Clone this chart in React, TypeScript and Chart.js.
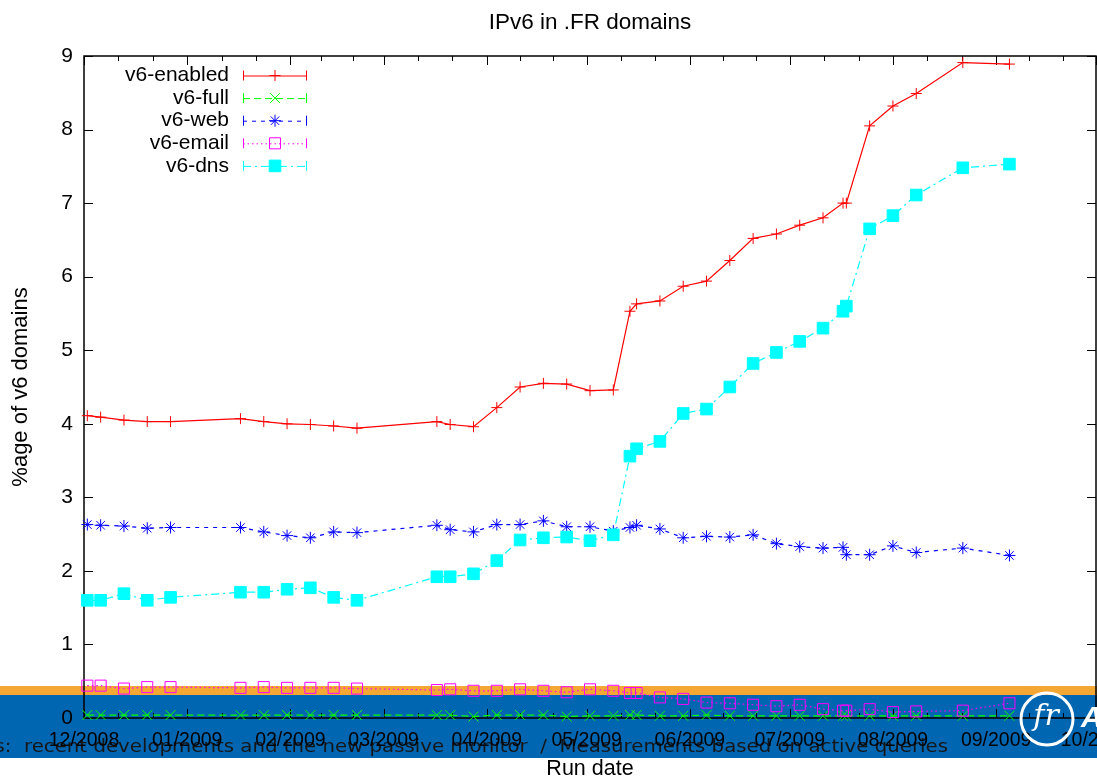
import React, { useEffect, useRef } from 'react';
import { Chart, registerables } from 'chart.js';

Chart.register(...registerables);

// ---- data ----
const runDates = [
  '2008-12-02', '2008-12-06', '2008-12-13', '2008-12-20', '2008-12-27',
  '2009-01-17', '2009-01-24', '2009-01-31', '2009-02-07', '2009-02-14',
  '2009-02-21', '2009-03-17', '2009-03-21', '2009-03-28', '2009-04-04',
  '2009-04-11', '2009-04-18', '2009-04-25', '2009-05-02', '2009-05-09',
  '2009-05-14', '2009-05-16', '2009-05-23', '2009-05-30', '2009-06-06',
  '2009-06-13', '2009-06-20', '2009-06-27', '2009-07-04', '2009-07-11',
  '2009-07-17', '2009-07-18', '2009-07-25', '2009-08-01', '2009-08-08',
  '2009-08-22', '2009-09-05',
];

const v6Enabled = [
  4.11, 4.09, 4.05, 4.03, 4.03, 4.07, 4.03, 4.0, 3.99, 3.97,
  3.94, 4.03, 3.99, 3.96, 4.22, 4.5, 4.55, 4.54, 4.45, 4.46,
  5.53, 5.63, 5.67, 5.87, 5.94, 6.22, 6.52, 6.58, 6.7, 6.8,
  7.0, 7.0, 8.05, 8.32, 8.49, 8.91, 8.89,
];

const v6Full = [
  0.04, 0.04, 0.04, 0.04, 0.04, 0.04, 0.04, 0.04, 0.04, 0.04,
  0.04, 0.04, 0.04, 0.02, 0.04, 0.04, 0.04, 0.02, 0.03, 0.03,
  0.04, 0.04, 0.03, 0.03, 0.04, 0.03, 0.03, 0.03, 0.03, 0.03,
  0.03, 0.03, 0.03, 0.03, 0.03, 0.03, 0.03,
];

const v6Web = [
  2.63, 2.62, 2.61, 2.58, 2.59, 2.59, 2.53, 2.48, 2.45, 2.53,
  2.52, 2.62, 2.56, 2.53, 2.63, 2.63, 2.68, 2.6, 2.6, 2.54,
  2.59, 2.62, 2.57, 2.45, 2.47, 2.46, 2.49, 2.37, 2.33, 2.31,
  2.32, 2.22, 2.22, 2.34, 2.25, 2.31, 2.21,
];

const v6Email = [
  0.44, 0.44, 0.4, 0.42, 0.42, 0.41, 0.42, 0.41, 0.41, 0.41,
  0.4, 0.38, 0.39, 0.37, 0.37, 0.39, 0.37, 0.35, 0.39, 0.37,
  0.34, 0.34, 0.28, 0.26, 0.21, 0.2, 0.18, 0.16, 0.18, 0.12,
  0.1, 0.1, 0.12, 0.08, 0.09, 0.1, 0.2,
];

const v6Dns = [
  1.6, 1.6, 1.69, 1.6, 1.64, 1.71, 1.71, 1.75, 1.77, 1.64,
  1.6, 1.92, 1.92, 1.96, 2.14, 2.42, 2.45, 2.46, 2.41, 2.49,
  3.56, 3.66, 3.76, 4.14, 4.2, 4.5, 4.82, 4.97, 5.12, 5.3,
  5.53, 5.6, 6.65, 6.83, 7.11, 7.48, 7.53,
];

const tickDates = [
  '2008-12-01', '2009-01-01', '2009-02-01', '2009-03-01', '2009-04-01',
  '2009-05-01', '2009-06-01', '2009-07-01', '2009-08-01', '2009-09-01', '2009-10-01',
];
const tickLabels = [
  '12/2008', '01/2009', '02/2009', '03/2009', '04/2009',
  '05/2009', '06/2009', '07/2009', '08/2009', '09/2009', '10/2009',
];

const chartTitle = 'IPv6 in .FR domains';
const yTitle = '%age of v6 domains';
const xTitle = 'Run date';
const footerText = 's:  recent developments and the new passive monitor  /  Measurements based on active queries';

// ---- helpers ----
const ORIGIN = Date.UTC(2008, 11, 1);
const toDay = (s: string) => {
  const [y, m, d] = s.split('-').map(Number);
  return (Date.UTC(y, m - 1, d) - ORIGIN) / 86400000;
};
const series = (vals: number[]) => runDates.map((d, i) => ({ x: toDay(d), y: vals[i] }));

const FONT = "'Liberation Sans', Arial, Helvetica, sans-serif";

function drawMarker(ctx: CanvasRenderingContext2D, style: string, x: number, y: number, r: number, color: string, fill: string) {
  ctx.save();
  ctx.strokeStyle = color;
  ctx.fillStyle = fill;
  ctx.lineWidth = 1;
  ctx.setLineDash([]);
  ctx.beginPath();
  if (style === 'cross') {
    ctx.moveTo(x - r, y); ctx.lineTo(x + r, y);
    ctx.moveTo(x, y - r); ctx.lineTo(x, y + r);
    ctx.stroke();
  } else if (style === 'crossRot') {
    const o = r * Math.SQRT1_2;
    ctx.moveTo(x - o, y - o); ctx.lineTo(x + o, y + o);
    ctx.moveTo(x - o, y + o); ctx.lineTo(x + o, y - o);
    ctx.stroke();
  } else if (style === 'star') {
    const o = r * Math.SQRT1_2;
    ctx.moveTo(x - r, y); ctx.lineTo(x + r, y);
    ctx.moveTo(x, y - r); ctx.lineTo(x, y + r);
    ctx.moveTo(x - o, y - o); ctx.lineTo(x + o, y + o);
    ctx.moveTo(x - o, y + o); ctx.lineTo(x + o, y - o);
    ctx.stroke();
  } else if (style === 'rect') {
    const s = r * Math.SQRT1_2;
    ctx.rect(x - s, y - s, 2 * s, 2 * s);
    if (fill !== 'transparent') ctx.fill();
    ctx.stroke();
  }
  ctx.restore();
}

const framePlugin = {
  id: 'gnuplotFrame',
  beforeDraw(chart: any) {
    const { ctx, width } = chart;
    ctx.save();
    ctx.fillStyle = '#ffffff';
    ctx.fillRect(0, 0, width, chart.height);
    // slide footer band behind the chart
    ctx.fillStyle = '#f4a833';
    ctx.fillRect(0, 686, width, 9);
    ctx.fillStyle = '#0066b2';
    ctx.fillRect(0, 695, width, 63);
    // footer text
    ctx.font = "18.5px 'DejaVu Sans', sans-serif";
    ctx.fillStyle = '#161616';
    ctx.textBaseline = 'alphabetic';
    ctx.textAlign = 'left';
    const prefix = 's:  ';
    const body = footerText.slice(prefix.length);
    const sx = 924 / ctx.measureText(body).width;
    const wPre = ctx.measureText(prefix).width;
    ctx.translate(24 - wPre * sx, 752);
    ctx.scale(sx, 1);
    ctx.fillText(footerText, 0, 0);
    ctx.restore();
  },
  beforeDatasetsDraw(chart: any) {
    const { ctx, chartArea } = chart;
    const { left, right, top, bottom } = chartArea;
    const xs = chart.scales.x;
    const ys = chart.scales.y;
    ctx.save();
    ctx.strokeStyle = '#000000';
    ctx.lineWidth = 1.5;
    ctx.strokeRect(left, top, right - left, bottom - top);
    ctx.lineWidth = 1;
    ctx.beginPath();
    ys.ticks.forEach((t: any) => {
      const py = Math.round(ys.getPixelForValue(t.value)) + 0.5;
      ctx.moveTo(left, py); ctx.lineTo(left + 9, py);
      ctx.moveTo(right, py); ctx.lineTo(right - 9, py);
    });
    const majors = tickDates.map(toDay);
    majors.forEach((v, i) => {
      const px = Math.round(xs.getPixelForValue(v)) + 0.5;
      ctx.moveTo(px, bottom); ctx.lineTo(px, bottom - 9);
      ctx.moveTo(px, top); ctx.lineTo(px, top + 9);
      if (i < majors.length - 1) {
        const step = (majors[i + 1] - v) / 3;
        for (let k = 1; k < 3; k++) {
          const mx = Math.round(xs.getPixelForValue(v + k * step)) + 0.5;
          ctx.moveTo(mx, bottom); ctx.lineTo(mx, bottom - 5);
          ctx.moveTo(mx, top); ctx.lineTo(mx, top + 5);
        }
      }
    });
    ctx.stroke();
    ctx.restore();
  },
  afterDraw(chart: any) {
    const { ctx } = chart;
    ctx.save();
    // gnuplot-style key
    const rowY0 = 75.5;
    const rowStep = 22.6;
    chart.data.datasets.forEach((ds: any, i: number) => {
      const y = rowY0 + i * rowStep;
      ctx.font = `21px ${FONT}`;
      ctx.fillStyle = '#000';
      ctx.textAlign = 'right';
      ctx.textBaseline = 'middle';
      ctx.fillText(ds.label, 229, y);
      ctx.strokeStyle = ds.borderColor;
      ctx.lineWidth = 1;
      ctx.setLineDash(ds.borderDash || []);
      ctx.beginPath();
      ctx.moveTo(243, y + 0.5); ctx.lineTo(307, y + 0.5);
      ctx.stroke();
      ctx.setLineDash([]);
      ctx.beginPath();
      ctx.moveTo(243.5, y - 5); ctx.lineTo(243.5, y + 5);
      ctx.moveTo(306.5, y - 5); ctx.lineTo(306.5, y + 5);
      ctx.stroke();
      drawMarker(ctx, ds.pointStyle, 275, y, ds.pointRadius, ds.pointBorderColor, ds.pointBackgroundColor);
    });
    // logo
    ctx.strokeStyle = '#ffffff';
    ctx.lineWidth = 3;
    ctx.beginPath();
    ctx.arc(1047, 719, 26, 0, Math.PI * 2);
    ctx.stroke();
    ctx.fillStyle = '#ffffff';
    ctx.font = "italic 30px 'DejaVu Serif', serif";
    ctx.textAlign = 'center';
    ctx.textBaseline = 'middle';
    ctx.fillText('fr', 1046, 717);
    ctx.font = `italic bold 30px ${FONT}`;
    ctx.textAlign = 'left';
    ctx.fillText('A', 1081, 719);
    ctx.restore();
  },
};

export default function App() {
  const canvasRef = useRef<HTMLCanvasElement | null>(null);

  useEffect(() => {
    if (!canvasRef.current) return;
    Chart.defaults.font.family = FONT;
    Chart.defaults.color = '#000';
    const chart = new Chart(canvasRef.current, {
      type: 'line',
      data: {
        datasets: [
          {
            label: 'v6-enabled', data: series(v6Enabled), order: 5,
            borderColor: '#ff0000', borderWidth: 1.2, borderDash: [],
            pointStyle: 'cross', pointRadius: 5.5, pointBorderWidth: 1,
            pointBorderColor: '#ff0000', pointBackgroundColor: '#ff0000',
          },
          {
            label: 'v6-full', data: series(v6Full), order: 4,
            borderColor: '#00ff00', borderWidth: 1.2, borderDash: [7, 4],
            pointStyle: 'crossRot', pointRadius: 7, pointBorderWidth: 1,
            pointBorderColor: '#00ff00', pointBackgroundColor: '#00ff00',
          },
          {
            label: 'v6-web', data: series(v6Web), order: 3,
            borderColor: '#0000ff', borderWidth: 1.2, borderDash: [4, 5],
            pointStyle: 'star', pointRadius: 6, pointBorderWidth: 1,
            pointBorderColor: '#0000ff', pointBackgroundColor: '#0000ff',
          },
          {
            label: 'v6-email', data: series(v6Email), order: 2,
            borderColor: '#ff00ff', borderWidth: 1.2, borderDash: [1.5, 3],
            pointStyle: 'rect', pointRadius: 7.8, pointBorderWidth: 1,
            pointBorderColor: '#ff00ff', pointBackgroundColor: 'transparent',
          },
          {
            label: 'v6-dns', data: series(v6Dns), order: 1,
            borderColor: '#00ffff', borderWidth: 1.2, borderDash: [8, 4, 2, 4],
            pointStyle: 'rect', pointRadius: 8.2, pointBorderWidth: 1,
            pointBorderColor: '#00ffff', pointBackgroundColor: '#00ffff',
          },
        ] as any,
      },
      options: {
        animation: false,
        responsive: true,
        maintainAspectRatio: false,
        devicePixelRatio: 1,
        layout: { autoPadding: false, padding: { top: 0, right: 1, bottom: 0, left: 0 } } as any,
        elements: { line: { tension: 0, fill: false } },
        datasets: { line: { clip: false } as any },
        plugins: {
          legend: { display: false },
          tooltip: { enabled: false },
          title: {
            display: true,
            fullSize: false,
            text: chartTitle,
            color: '#000',
            font: { size: 22.5, weight: 'normal', family: FONT },
            padding: { top: 9, bottom: 20 },
          },
        },
        scales: {
          x: {
            type: 'linear',
            min: 0,
            max: toDay(tickDates[tickDates.length - 1]),
            grid: { display: false, drawTicks: false },
            border: { display: false },
            afterBuildTicks: (scale: any) => {
              scale.ticks = tickDates.map((d) => ({ value: toDay(d) }));
            },
            afterFit: (scale: any) => {
              scale.height = 64;
              scale.paddingLeft = 0;
              scale.paddingRight = 0;
            },
            ticks: {
              autoSkip: false,
              maxRotation: 0,
              minRotation: 0,
              padding: 11,
              color: '#000',
              font: { size: 19.5, family: FONT },
              callback: (_v: any, i: number) => tickLabels[i],
            },
            title: {
              display: true,
              text: xTitle,
              color: '#000',
              font: { size: 21.5, family: FONT },
              padding: { top: 0, bottom: 0 },
            },
          },
          y: {
            min: 0,
            max: 9,
            grid: { display: false, drawTicks: false },
            border: { display: false },
            afterFit: (scale: any) => {
              scale.width = 84;
            },
            ticks: {
              stepSize: 1,
              padding: 11,
              color: '#000',
              font: { size: 21, family: FONT },
            },
            title: {
              display: true,
              text: yTitle,
              color: '#000',
              font: { size: 22, family: FONT },
              padding: { top: 8, bottom: 0 },
            },
          },
        },
      },
      plugins: [framePlugin],
    });
    return () => chart.destroy();
  }, []);

  return (
    <div style={{ position: 'absolute', left: 0, top: 0, width: 1097, height: 782, background: '#fff' }}>
      <canvas ref={canvasRef} />
    </div>
  );
}
